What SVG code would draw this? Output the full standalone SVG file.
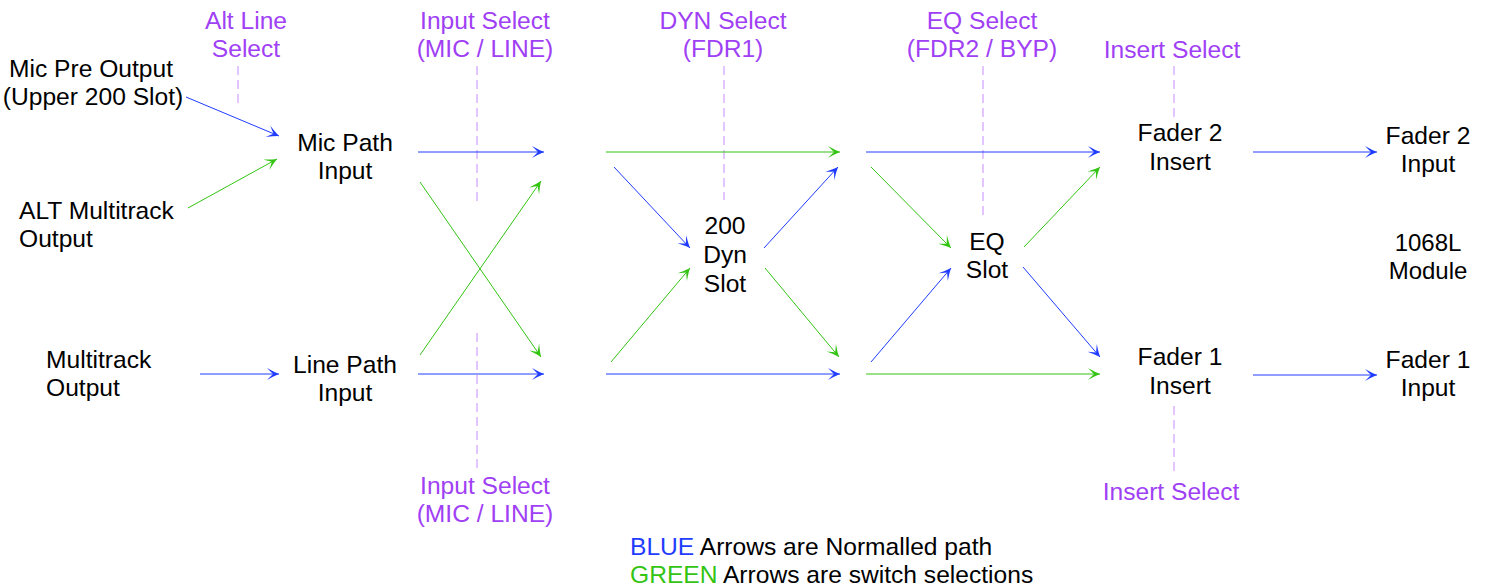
<svg xmlns="http://www.w3.org/2000/svg" width="1488" height="588" viewBox="0 0 1488 588">
<defs>
<marker id="ab" markerUnits="userSpaceOnUse" markerWidth="14" markerHeight="14" viewBox="0 0 14 14" refX="13" refY="7" orient="auto">
<path d="M1,1 Q8,5 13,7 Q8,9 1,13 Q6,8 7,7 Q6,6 1,1 Z" fill="#1f3cff"/>
</marker>
<marker id="ag" markerUnits="userSpaceOnUse" markerWidth="14" markerHeight="14" viewBox="0 0 14 14" refX="13" refY="7" orient="auto">
<path d="M1,1 Q8,5 13,7 Q8,9 1,13 Q6,8 7,7 Q6,6 1,1 Z" fill="#33c414"/>
</marker>
</defs>
<style>
text{font-family:"Liberation Sans",Arial,sans-serif;font-size:24.6px;text-anchor:middle;fill:#000}
.p{fill:#a040f5}
.l{text-anchor:start}
.b{stroke:#1f3cff;stroke-width:1;fill:none;marker-end:url(#ab)}
.g{stroke:#33c414;stroke-width:1;fill:none;marker-end:url(#ag)}
.d{stroke:#c78cff;stroke-width:1;stroke-dasharray:9,5;fill:none}
</style>
<rect width="1488" height="588" fill="#fff"/>
<g id="selectors">
<line class="d" x1="238" y1="66" x2="238" y2="105"/>
<line class="d" x1="477" y1="66" x2="477" y2="203"/>
<line class="d" x1="724" y1="66" x2="724" y2="200"/>
<line class="d" x1="983" y1="66" x2="983" y2="218"/>
<line class="d" x1="1174" y1="66" x2="1174" y2="119"/>
<line class="d" x1="477" y1="333" x2="477" y2="471"/>
<line class="d" x1="1174" y1="406" x2="1174" y2="472"/>
<text class="p" x="246" y="29">Alt Line<tspan x="246" y="57">Select</tspan></text>
<text class="p" x="485" y="29">Input Select<tspan x="485" y="57">(MIC / LINE)</tspan></text>
<text class="p" x="723" y="29">DYN Select<tspan x="723" y="57">(FDR1)</tspan></text>
<text class="p" x="982" y="29">EQ Select<tspan x="982" y="57">(FDR2 / BYP)</tspan></text>
<text class="p" x="1172" y="58">Insert Select</text>
<text class="p" x="485" y="494">Input Select<tspan x="485" y="522">(MIC / LINE)</tspan></text>
<text class="p" x="1171" y="500">Insert Select</text>
</g>
<g id="connectors">
<line class="b" x1="186" y1="97" x2="279" y2="136"/>
<line class="g" x1="188" y1="208" x2="277" y2="159"/>
<line class="b" x1="200" y1="374" x2="279" y2="374"/>
<line class="b" x1="418" y1="152" x2="544" y2="152"/>
<line class="g" x1="420" y1="182" x2="541" y2="357"/>
<line class="g" x1="420" y1="355" x2="541" y2="181"/>
<line class="b" x1="418" y1="374" x2="544" y2="374"/>
<line class="g" x1="606" y1="152" x2="840" y2="152"/>
<line class="b" x1="614" y1="167" x2="690" y2="248"/>
<line class="g" x1="611" y1="362" x2="690" y2="268"/>
<line class="b" x1="606" y1="374" x2="840" y2="374"/>
<line class="b" x1="764" y1="248" x2="838" y2="167"/>
<line class="g" x1="765" y1="268" x2="839" y2="357"/>
<line class="b" x1="866" y1="152" x2="1100" y2="152"/>
<line class="g" x1="871" y1="167" x2="951" y2="248"/>
<line class="b" x1="871" y1="362" x2="951" y2="268"/>
<line class="g" x1="866" y1="374" x2="1100" y2="374"/>
<line class="g" x1="1024" y1="247" x2="1100" y2="167"/>
<line class="b" x1="1023" y1="267" x2="1100" y2="357"/>
<line class="b" x1="1253" y1="152" x2="1377" y2="152"/>
<line class="b" x1="1253" y1="375" x2="1377" y2="375"/>
</g>
<g id="mic-pre-output"><text x="91" y="77">Mic Pre Output<tspan x="93" y="105">(Upper 200 Slot)</tspan></text></g>
<g id="alt-multitrack-output"><text class="l" x="19" y="219">ALT Multitrack<tspan x="19" y="247">Output</tspan></text></g>
<g id="multitrack-output"><text class="l" x="46" y="368">Multitrack<tspan x="46" y="396">Output</tspan></text></g>
<g id="mic-path-input"><text x="345" y="151">Mic Path<tspan x="345" y="179">Input</tspan></text></g>
<g id="line-path-input"><text x="345" y="373">Line Path<tspan x="345" y="401">Input</tspan></text></g>
<g id="dyn-slot"><text x="725" y="234">200<tspan x="725" y="263">Dyn</tspan><tspan x="725" y="292">Slot</tspan></text></g>
<g id="eq-slot"><text x="987" y="250">EQ<tspan x="987" y="278">Slot</tspan></text></g>
<g id="fader2-insert"><text x="1180" y="141">Fader 2<tspan x="1180" y="170">Insert</tspan></text></g>
<g id="fader1-insert"><text x="1180" y="365">Fader 1<tspan x="1180" y="394">Insert</tspan></text></g>
<g id="fader2-input"><text x="1428" y="144">Fader 2<tspan x="1428" y="172">Input</tspan></text></g>
<g id="fader1-input"><text x="1428" y="368">Fader 1<tspan x="1428" y="396">Input</tspan></text></g>
<g id="module"><text x="1428" y="251" style="font-size:24px">1068L<tspan x="1428" y="279">Module</tspan></text></g>
<g id="legend">
<text class="l" x="630" y="555"><tspan fill="#1f3cff">BLUE</tspan> Arrows are Normalled path</text>
<text class="l" x="630" y="583"><tspan fill="#33c414">GREEN</tspan> Arrows are switch selections</text>
</g>
</svg>
